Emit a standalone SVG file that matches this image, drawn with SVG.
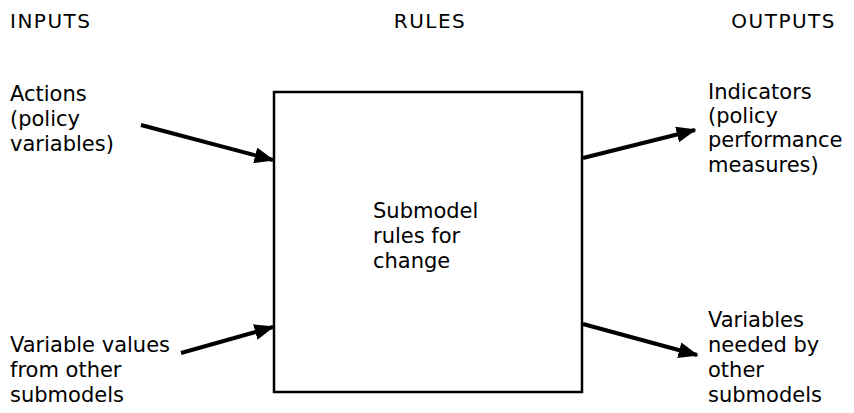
<svg xmlns="http://www.w3.org/2000/svg" width="854" height="413" viewBox="0 0 854 413">
<style>
text{font-family:"DejaVu Sans","Liberation Sans",sans-serif;font-size:21px;fill:#000}
text.h{font-size:20px;letter-spacing:1.5px}
.c{stroke:#000;stroke-width:4;fill:none}
</style>
<defs>
<marker id="ah" markerWidth="5" markerHeight="4" refX="4.6" refY="2" orient="auto" markerUnits="strokeWidth">
<path d="M0,0 L5,2 L0,4 z" fill="#000"/>
</marker>
</defs>
<rect width="854" height="413" fill="#fff"/>
<g id="headers">
<text class="h" x="10" y="28">INPUTS</text>
<text class="h" x="430" y="28" text-anchor="middle">RULES</text>
<text class="h" x="836" y="28" text-anchor="end">OUTPUTS</text>
</g>
<g id="box">
<rect x="274" y="92" width="308" height="300" fill="none" stroke="#000" stroke-width="2.5"/>
<text x="373" y="218">Submodel</text>
<text x="373" y="243">rules for</text>
<text x="373" y="268">change</text>
</g>
<g id="in-actions">
<text x="10" y="101">Actions</text>
<text x="10" y="126">(policy</text>
<text x="10" y="151">variables)</text>
</g>
<g id="in-values">
<text x="10" y="352">Variable values</text>
<text x="10" y="377">from other</text>
<text x="10" y="402">submodels</text>
</g>
<g id="out-indicators">
<text x="708" y="99">Indicators</text>
<text x="708" y="123">(policy</text>
<text x="708" y="147">performance</text>
<text x="708" y="172">measures)</text>
</g>
<g id="out-variables">
<text x="708" y="327">Variables</text>
<text x="708" y="352">needed by</text>
<text x="708" y="377">other</text>
<text x="708" y="402">submodels</text>
</g>
<g id="connectors">
<line class="c" x1="141" y1="125" x2="273" y2="160" marker-end="url(#ah)"/>
<line class="c" x1="181" y1="353" x2="273" y2="327" marker-end="url(#ah)"/>
<line class="c" x1="583" y1="158" x2="695" y2="130" marker-end="url(#ah)"/>
<line class="c" x1="583" y1="324" x2="697" y2="355" marker-end="url(#ah)"/>
</g>
</svg>
